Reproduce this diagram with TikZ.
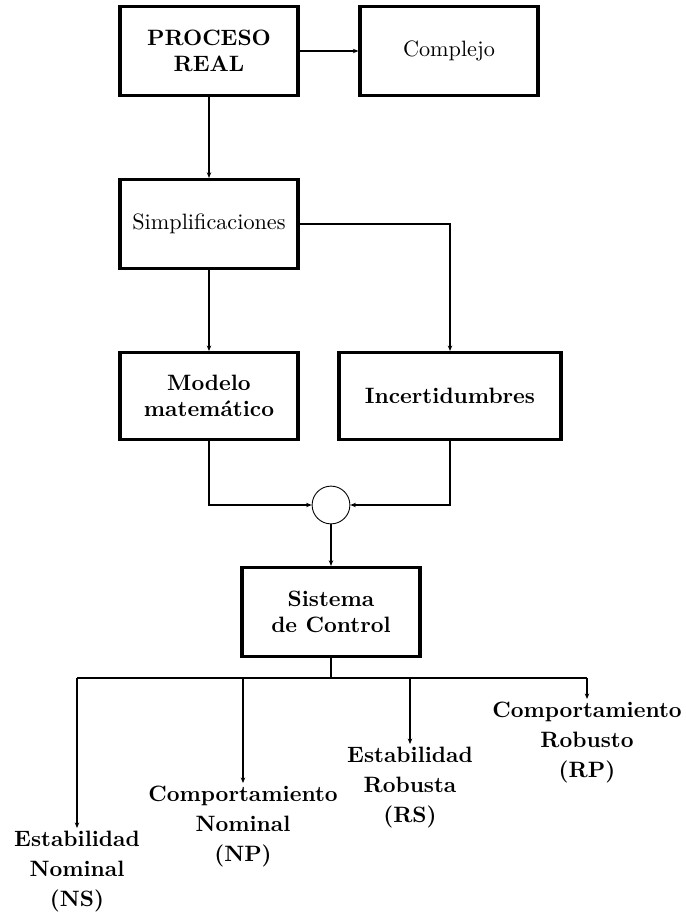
\documentclass[tikz,border=0pt]{standalone}
\usetikzlibrary{arrows.meta}
\tikzset{
	caja/.style={draw, line width=1.5pt, minimum width=80pt, minimum height=40pt, align=center, inner sep=2pt},
	conn/.style={line width=1.3pt, -{Stealth[length=2.5pt,width=2pt]}},
	linea/.style={line width=1.3pt},
	suma/.style={draw, circle, line width=0.4pt, minimum size=17pt, inner sep=0pt},
	etiqueta/.style={align=center, font=\bfseries, inner sep=1pt, anchor=north}
}
\begin{document}
\begin{tikzpicture}[x=0.45pt, y=-0.45pt]
	\useasboundingbox (0,0) rectangle (685,915);
	\node [caja, font=\bfseries] (proc) at (209,51) {PROCESO\\REAL};
	\node [caja] (compl) at (449,51) {Complejo};
	\node [caja] (simp) at (209,224) {Simplificaciones};
	\node [caja, font=\bfseries, minimum height=39pt] (modelo) at (209,396) {Modelo\\matem\'atico};
	\node [caja, font=\bfseries, minimum width=100pt, minimum height=39pt] (incert) at (450,396) {Incertidumbres};
	\node [suma] (sum) at (331,505) {};
	\node [caja, font=\bfseries] (sist) at (331,612) {Sistema\\de Control};
	\coordinate (bus) at (331,678);
	\coordinate (b1) at (77,678);
	\coordinate (b2) at (243,678);
	\coordinate (b3) at (410,678);
	\coordinate (b4) at (587,678);
	\node [etiqueta] (ns) at (77,828) {Estabilidad\\[1.5pt]Nominal\\[1.5pt](NS)};
	\node [etiqueta] (np) at (243,783) {Comportamiento\\[1.5pt]Nominal\\[1.5pt](NP)};
	\node [etiqueta] (rs) at (410,744) {Estabilidad\\[1.5pt]Robusta\\[1.5pt](RS)};
	\node [etiqueta] (rp) at (587,699) {Comportamiento\\[1.5pt]Robusto\\[1.5pt](RP)};
	\draw [conn] (proc) -- (compl);
	\draw [conn] (proc) -- (simp);
	\draw [conn] (simp) -- (modelo);
	\draw [conn] (simp.east) -| (incert.north);
	\draw [conn] (modelo.south) |- (sum.west);
	\draw [conn] (incert.south) |- (sum.east);
	\draw [conn] (sum) -- (sist);
	\draw [linea] (sist) -- (bus);
	\draw [linea] (b1) -- (b4);
	\draw [conn] (b1) -- (ns);
	\draw [conn] (b2) -- (np);
	\draw [conn] (b3) -- (rs);
	\draw [conn] (b4) -- (rp);
\end{tikzpicture}
\end{document}
